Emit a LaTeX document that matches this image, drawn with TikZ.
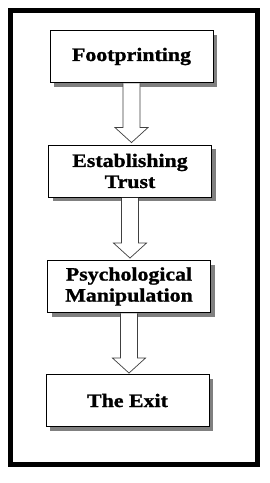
\documentclass[tikz,border=0pt]{standalone}
\usepackage{fontspec}
\setmainfont{Liberation Serif}[BoldFeatures={FakeStretch=1.15,FakeBold=1.2}]
\usetikzlibrary{calc,shadows}
\begin{document}
\begin{tikzpicture}[x=1pt,y=-1pt,
  stepbox/.style={draw=black,line width=0.9pt,fill=white,minimum width=163pt,minimum height=52pt,
    inner sep=0pt,align=center,font=\fontsize{19}{21}\selectfont\bfseries,
    drop shadow={shadow xshift=4pt,shadow yshift=-4pt,fill=black!50,opacity=1}},
  hollow/.style={draw=black!75,line width=0.7pt,fill=white,line join=miter}]
\useasboundingbox (0,0) rectangle (270,483);
\fill[white] (0,0) rectangle (270,483);
\draw[line width=5pt] (10.5,10.5) rectangle (257.5,464.5);
\node[stepbox] (b1) at (131.5,56.5) {Footprinting};
\node[stepbox] (b2) at (130,171) {Establishing\\Trust};
\node[stepbox] (b3) at (129,286.5) {Psychological\\Manipulation};
\node[stepbox] (b4) at (127.5,400.5) {The Exit};
% hollow arrows
\draw[hollow] ($(b1.south)+(-8.5,0.5)$) -- ($(b1.south |- b2.north)+(-8.5,-17)$) -- ($(b1.south |- b2.north)+(-16.5,-17)$)
  -- ($(b1.south |- b2.north)+(0,-2)$) -- ($(b1.south |- b2.north)+(16.5,-17)$) -- ($(b1.south |- b2.north)+(8.5,-17)$)
  -- ($(b1.south)+(8.5,0.5)$);
\draw[hollow] ($(b2.south)+(-8.5,0.5)$) -- ($(b2.south |- b3.north)+(-8.5,-17)$) -- ($(b2.south |- b3.north)+(-16.5,-17)$)
  -- ($(b2.south |- b3.north)+(0,-2)$) -- ($(b2.south |- b3.north)+(16.5,-17)$) -- ($(b2.south |- b3.north)+(8.5,-17)$)
  -- ($(b2.south)+(8.5,0.5)$);
\draw[hollow] ($(b3.south)+(-8.5,0.5)$) -- ($(b3.south |- b4.north)+(-8.5,-16)$) -- ($(b3.south |- b4.north)+(-16.5,-16)$)
  -- ($(b3.south |- b4.north)+(0,-1)$) -- ($(b3.south |- b4.north)+(16.5,-16)$) -- ($(b3.south |- b4.north)+(8.5,-16)$)
  -- ($(b3.south)+(8.5,0.5)$);
\end{tikzpicture}
\end{document}
